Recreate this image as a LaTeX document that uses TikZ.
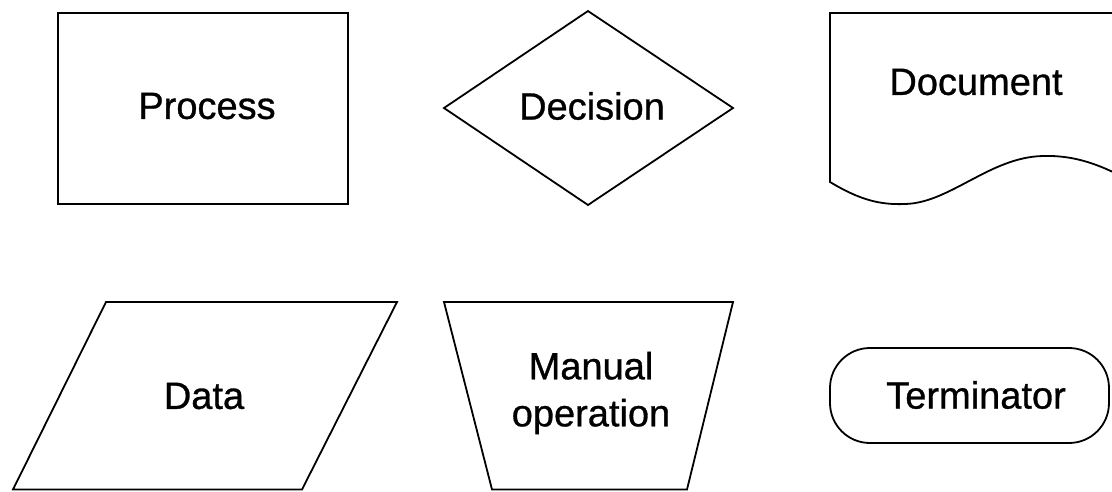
\documentclass[tikz,border=0pt]{standalone}
\usepackage{fontspec}
\setmainfont{Liberation Sans}
\newfontfamily\heavyfont[FakeBold=0.8]{Liberation Sans}
\begin{document}
\begin{tikzpicture}[x=1pt,y=-1pt,
  shapeline/.style={draw=black,line width=1.8pt,line join=miter},
  lbl/.style={font=\heavyfont\fontsize{38}{47}\selectfont,align=center,inner sep=0pt}]
\useasboundingbox (0,0) rectangle (1112,491);
\clip (0,0) rectangle (1112,491);
% Process
\draw[shapeline] (58,13) rectangle (348,204);
\node[lbl] (process) at (207,106) {Process};
% Decision
\draw[shapeline] (588,11) -- (733,108) -- (588,205) -- (444,108) -- cycle;
\node[lbl] (decision) at (592,106) {Decision};
% Document
\draw[shapeline] (1125,178) -- (1125,13) -- (830,13) -- (830,182)
  .. controls (860,200) and (880,205) .. (905,204)
  .. controls (950,203) and (990,157) .. (1043,156)
  .. controls (1075,155) and (1100,165) .. (1125,178);
\node[lbl] (document) at (976,82) {Document};
% Data
\draw[shapeline] (106,302) -- (397,302) -- (302,489.5) -- (13,489.5) -- cycle;
\node[lbl] (data) at (204,396) {Data};
% Manual operation
\draw[shapeline] (444,302) -- (733,302) -- (687,489.5) -- (492,489.5) -- cycle;
\node[lbl] (manual) at (591,393) {Manual\\operation};
% Terminator
\draw[shapeline,rounded corners=40pt] (830,348) rectangle (1109,443);
\node[lbl] (terminator) at (976,395) {Terminator};
\end{tikzpicture}
\end{document}
